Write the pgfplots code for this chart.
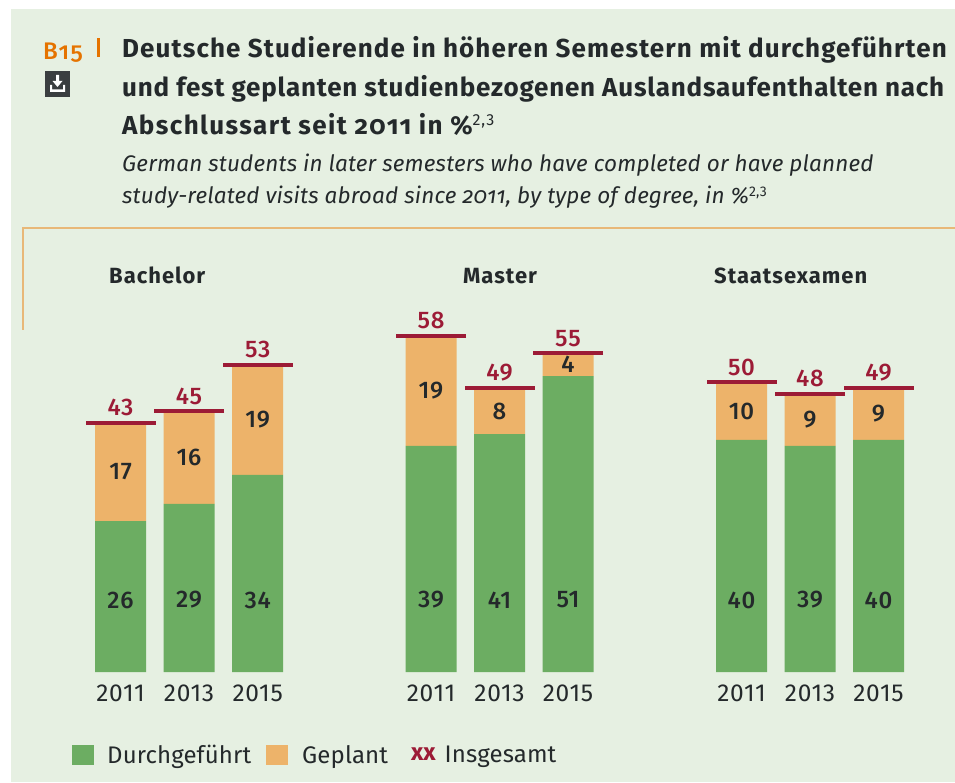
\documentclass[border=0pt]{standalone}
\usepackage{fontspec}
\setmainfont{Fira Sans}
\newfontfamily\medf{Fira Sans Medium}
\usepackage{pgfplots}
\usepackage{pgfplotstable}
\pgfplotsset{compat=1.18}
\definecolor{bg}{HTML}{E6F0E2}
\definecolor{grn}{HTML}{6CAD62}
\definecolor{org}{HTML}{EDB36A}
\definecolor{frm}{HTML}{E8B878}
\definecolor{tot}{HTML}{9C1B36}
\definecolor{ink}{HTML}{24292B}
\newcommand{\fs}[1]{\fontsize{#1}{#1}\selectfont}

% x = bar centre in the picture, g = durchgefuehrt, p = geplant, t = insgesamt
\pgfplotstableread{
x     g  p  t
120.5 26 17 43
189   29 16 45
257.7 34 19 53
431   39 19 58
499.5 41 8  49
568   51 4  55
741.5 40 10 50
810   39 9  48
878.5 40 9  49
}\data

\pgfplotsset{
  frame/.style={
    at={(0,110pt)}, anchor=south west,
    scale only axis, width=955pt, height=672pt,
    xmin=0, xmax=955, ymin=0, ymax=115.86,
    axis line style={draw=none},
    tick style={draw=none}, major tick length=0pt,
    ytick=\empty,
  },
  vals/.style={draw=none, mark=none, forget plot,
    nodes near coords, point meta=explicit,
    /pgf/number format/assume math mode=true,
    every node near coord/.append style={anchor=center, font=\medf\fs{24}\addfontfeature{LetterSpace=3}, text=ink}},
  sq/.style={legend image code/.code={\fill[##1] (0pt,-10pt) rectangle (22pt,10pt);}},
}

\begin{document}
\begin{tikzpicture}
\useasboundingbox (0,0) rectangle (955pt,782pt);
\fill[white] (0,0) rectangle (955pt,782pt);
\fill[bg] (11pt,0) rectangle (955pt,773pt);
\begin{axis}[frame,
    ybar stacked, bar width=51pt,
    xtick={120.5,189,257.7,431,499.5,568,741.5,810,878.5},
    xticklabels={2011,2013,2015,2011,2013,2015,2011,2013,2015},
    xticklabel style={font=\fs{24.5}\addfontfeature{LetterSpace=3}, text=ink, yshift=-9pt},
    legend style={at={(69pt,-69pt)}, anchor=north west, draw=none, fill=none,
      font=\fs{24}\addfontfeature{LetterSpace=0.5}, text=ink, legend columns=3,
      /tikz/column 1/.style={column sep=11pt},
      /tikz/column 2/.style={column sep=13pt},
      /tikz/column 3/.style={column sep=12pt},
      /tikz/column 4/.style={column sep=21pt},
      /tikz/column 5/.style={column sep=7pt}},
    legend cell align=left,
  ]
  \addplot[fill=grn, draw=none, sq] table[x=x, y=g] {\data};
  \addlegendentry{Durchgeführt}
  \addplot[fill=org, draw=none, sq] table[x=x, y=p] {\data};
  \addlegendentry{Geplant}
  \addlegendimage{legend image code/.code={\node[text=tot, font=\fs{24}\bfseries, inner sep=0] at (12pt,0) {xx};}}
  \addlegendentry{Insgesamt}
\end{axis}
\begin{axis}[frame, xtick=\empty]
  \addplot[vals] table[x=x, y expr=12.4, meta=g] {\data};
  \addplot[vals] table[x=x, y expr=\thisrow{g}+\thisrow{p}/2, meta=p] {\data};
  \addplot[draw=none, forget plot,
    mark=-, mark size=35pt, mark options={draw=tot, line width=4pt},
    nodes near coords, point meta=explicit,
    /pgf/number format/assume math mode=true,
    every node near coord/.append style={anchor=south, yshift=1pt, font=\medf\fs{24}\addfontfeature{LetterSpace=3}, text=tot}]
    table[x=x, y=t, meta=t] {\data};
\end{axis}
\begin{scope}[x=1pt, y=-1pt, shift={(0pt,782pt)}]
  \draw[frm, line width=1.5pt] (23,330) -- (23,228) -- (955,228);
  % number and download icon
  \node[anchor=base west, inner sep=0, text=orange!90!black, font=\medf\fs{24}\addfontfeature{Numbers=OldStyle,LetterSpace=6}] at (43,60) {B15};
  \fill[orange!90!black] (97,38) rectangle (99.5,57);
  \fill[ink!90] (45,71) rectangle (70,97);
  \fill[white] (50,85) -- (50,92) -- (65,92) -- (65,85) -- (63,85) -- (63,89.5) -- (52,89.5) -- (52,85) -- cycle;
  \fill[white] (56,75) rectangle (59,81) (52.5,81) -- (62.5,81) -- (57.5,87) -- cycle;
  % titles
  \begin{scope}[every node/.style={anchor=base west, inner sep=0, text=ink}]
    \node[font=\fs{26}\bfseries\addfontfeature{LetterSpace=4.3}] at (122,58) {Deutsche Studierende in höheren Semestern mit durchgeführten};
    \node[font=\fs{26}\bfseries\addfontfeature{LetterSpace=3.1}] at (122,97) {und fest geplanten studienbezogenen Auslandsaufenthalten nach};
    \node[font=\fs{26}\bfseries\addfontfeature{LetterSpace=5.5}] at (122,135) {Abschlussart seit {\addfontfeature{Numbers=OldStyle}2011} in \%\textsuperscript{\mdseries\fs{16}2,3}};
    \node[font=\fs{22.5}\itshape\addfontfeature{LetterSpace=0.8}] at (122,172) {German students in later semesters who have completed or have planned};
    \node[font=\fs{22.5}\itshape\addfontfeature{LetterSpace=0.8}] at (122,204) {study-related visits abroad since {\addfontfeature{Numbers=OldStyle}2011}, by type of degree, in \%\textsuperscript{\upshape\fs{14}2,3}};
    \node[font=\fs{22}\bfseries\addfontfeature{LetterSpace=4.5}] at (109,284) {Bachelor};
    \node[font=\fs{22}\bfseries\addfontfeature{LetterSpace=4.5}] at (463,284) {Master};
    \node[font=\fs{22}\bfseries\addfontfeature{LetterSpace=4.5}] at (714,284) {Staatsexamen};
  \end{scope}
\end{scope}
\end{tikzpicture}
\end{document}
